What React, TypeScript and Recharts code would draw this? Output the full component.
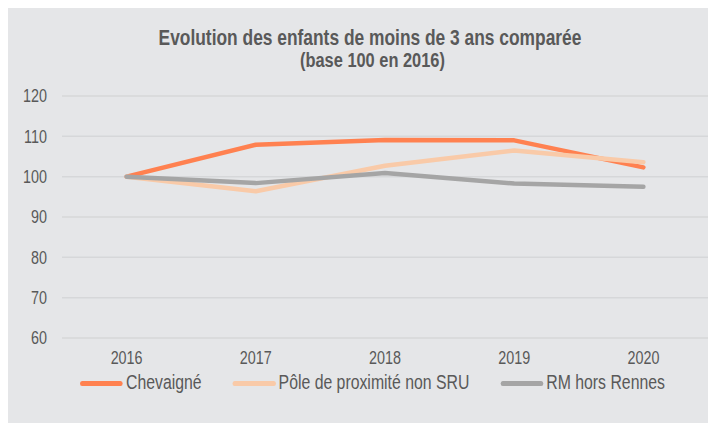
import React from "react";
import { CartesianGrid, Line, LineChart, XAxis, YAxis } from "recharts";

const YEARS = ["2016", "2017", "2018", "2019", "2020"];
const CHEVAIGNE = [100, 107.9, 109.1, 109.0, 102.3];
const POLE = [100, 96.4, 102.7, 106.5, 103.6];
const RM = [100, 98.4, 100.9, 98.3, 97.5];
const Y_TICKS = [60, 70, 80, 90, 100, 110, 120];

const SERIES = [
  { key: "chevaigne", name: "Chevaigné", values: CHEVAIGNE, color: "#FF8150" },
  { key: "pole", name: "Pôle de proximité non SRU", values: POLE, color: "#F9CAA8" },
  { key: "rm", name: "RM hors Rennes", values: RM, color: "#A5A5A5" },
];

const data = YEARS.map((year, i) => {
  const row: Record<string, number | string> = { year };
  SERIES.forEach((s) => {
    row[s.key] = s.values[i];
  });
  return row;
});

// no Arial Narrow here, so squeeze Liberation Sans horizontally
const FONT = '"Liberation Sans", Arial, sans-serif';
const NARROW = 0.82;
const TEXT = "#595959";
const BG = "#E5E6E8";

const Tick = ({ x, y, payload, anchor, dy }: any) => (
  <g transform={`translate(${x},${y})`}>
    <text
      transform={`scale(${NARROW},1)`}
      textAnchor={anchor}
      dy={dy}
      fill={TEXT}
      fontSize={17.5}
      fontFamily={FONT}
    >
      {payload.value}
    </text>
  </g>
);

const LegendItems = () => (
  <div
    style={{
      position: "absolute",
      left: 72,
      top: 364,
      display: "flex",
      gap: 31 / NARROW,
      fontSize: 19.3,
      color: TEXT,
      whiteSpace: "nowrap",
      transform: `scaleX(${NARROW})`,
      transformOrigin: "left",
      lineHeight: "22px",
    }}
  >
    {SERIES.map((s) => (
      <div key={s.key} style={{ display: "flex", alignItems: "center" }}>
        <span
          style={{
            display: "inline-block",
            width: 43 / NARROW,
            height: 5,
            borderRadius: 3,
            background: s.color,
            marginRight: 3 / NARROW,
          }}
        />
        <span>{s.name}</span>
      </div>
    ))}
  </div>
);

export default function App() {
  return (
    <div style={{ position: "relative", width: 708, height: 415, background: BG, fontFamily: FONT }}>
      <div
        style={{
          position: "absolute",
          left: 0,
          width: 724,
          top: 19,
          textAlign: "center",
          color: TEXT,
          fontWeight: "bold",
          lineHeight: "22px",
          transform: `scaleX(${NARROW})`,
        }}
      >
        <div style={{ fontSize: 21.2 }}>Evolution des enfants de moins de 3 ans comparée</div>
        <div style={{ fontSize: 20, paddingLeft: 6 }}>(base 100 en 2016)</div>
      </div>
      <LineChart width={708} height={415} data={data} margin={{ top: 88, right: 8, left: 0, bottom: 0 }}>
        <CartesianGrid vertical={false} stroke="#D6D7D9" strokeWidth={1.5} />
        <XAxis
          dataKey="year"
          axisLine={false}
          tickLine={false}
          tickSize={0}
          tickMargin={14}
          height={85}
          padding={{ left: 64.6, right: 64.6 }}
          tick={<Tick anchor="middle" dy="0.71em" />}
        />
        <YAxis
          width={54}
          domain={[60, 120]}
          ticks={Y_TICKS}
          axisLine={false}
          tickLine={false}
          tickSize={0}
          tickMargin={15}
          tick={<Tick anchor="end" dy="0.355em" />}
        />
        {SERIES.map((s) => (
          <Line
            key={s.key}
            dataKey={s.key}
            name={s.name}
            stroke={s.color}
            strokeWidth={4.5}
            strokeLinejoin="round"
            strokeLinecap="round"
            dot={false}
            activeDot={false}
            isAnimationActive={false}
          />
        ))}
      </LineChart>
      <LegendItems />
    </div>
  );
}
